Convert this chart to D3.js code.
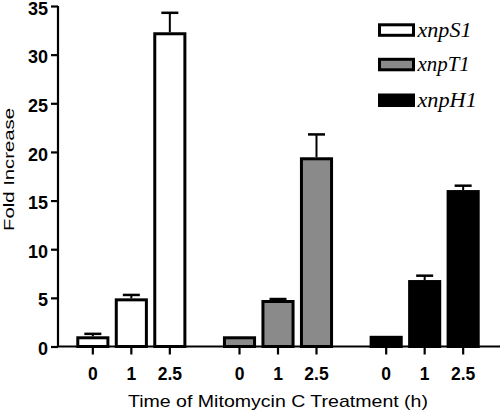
<!DOCTYPE html>
<html>
<head>
<meta charset="utf-8">
<script src="https://cdn.jsdelivr.net/npm/d3@7"></script>
<style>
  html, body { margin: 0; padding: 0; background: #fff; }
  svg { display: block; }
</style>
</head>
<body>
<svg id="chart" width="500" height="414"></svg>
<script>
// ---- data ----
const genes = ["xnpS1", "xnpT1", "xnpH1"];
const times = ["0", "1", "2.5"];
const meanS1 = [1.05, 4.95, 32.3];
const errS1  = [0.25, 0.35, 2.0];
const meanT1 = [1.05, 4.78, 19.45];
const errT1  = [0.0, 0.1, 2.35];
const meanH1 = [1.1, 6.83, 16.08];
const errH1  = [0.0, 0.45, 0.45];
const fills = ["#ffffff", "#8a8a8a", "#000000"];
const yTicks = [0, 5, 10, 15, 20, 25, 30, 35];
const yTitle = "Fold Increase";
const xTitle = "Time of Mitomycin C Treatment (h)";

const means = [meanS1, meanT1, meanH1];
const errs = [errS1, errT1, errH1];
const rows = [];
genes.forEach((g, gi) => times.forEach((t, ti) => rows.push({
  gene: g, time: t, gi, v: means[gi][ti], e: errs[gi][ti]
})));

const svg = d3.select("#chart");
const SANS = "'Liberation Sans', Arial, sans-serif";
const SERIF = "'Liberation Serif', 'Times New Roman', serif";

const x0 = d3.scaleBand().domain(genes).range([58, 498]).padding(0);
const x1 = d3.scaleBand().domain(times).range([0, x0.bandwidth()])
  .paddingInner(0.14).paddingOuter(0.475);
const y = d3.scaleLinear().domain([0, 35]).range([346.5, 6]);

const SW = 3; // bar stroke

// bars
const bars = svg.append("g");
rows.forEach(d => {
  const bx = x0(d.gene) + x1(d.time);
  const bw = x1.bandwidth();
  const cx = bx + bw / 2;
  if (d.e > 0) {
    bars.append("line")
      .attr("x1", cx).attr("x2", cx)
      .attr("y1", y(d.v)).attr("y2", y(d.v + d.e))
      .attr("stroke", "#000").attr("stroke-width", 2);
    bars.append("line")
      .attr("x1", cx - 8.5).attr("x2", cx + 8.5)
      .attr("y1", y(d.v + d.e)).attr("y2", y(d.v + d.e))
      .attr("stroke", "#000").attr("stroke-width", 2.5);
  }
  bars.append("rect")
    .attr("x", bx + SW / 2)
    .attr("y", y(d.v) + SW / 2)
    .attr("width", bw - SW)
    .attr("height", y(0) - y(d.v) - SW / 2)
    .attr("fill", fills[d.gi])
    .attr("stroke", "#000")
    .attr("stroke-width", SW);
});

// y axis
const yAxis = svg.append("g")
  .attr("transform", "translate(58,0)")
  .call(d3.axisLeft(y).tickValues(yTicks).tickSize(7).tickPadding(3).tickFormat(d3.format("d")));
yAxis.select(".domain").attr("stroke-width", 2.2).attr("d", `M0,${y(35)}V${y(0)}`);
yAxis.selectAll(".tick line").attr("stroke-width", 2.2);
yAxis.selectAll(".tick text")
  .attr("font-family", SANS).attr("font-weight", "bold").attr("font-size", 18)
  .attr("dy", "0.45em").attr("fill", "#000");

// x axis (tick for every bar)
const xPos = d3.scaleOrdinal()
  .domain(rows.map(d => d.gene + "|" + d.time))
  .range(rows.map(d => x0(d.gene) + x1(d.time) + x1.bandwidth() / 2));
const xg = svg.append("g");
xg.append("line")
  .attr("x1", 57).attr("x2", 500)
  .attr("y1", y(0)).attr("y2", y(0))
  .attr("stroke", "#000").attr("stroke-width", 2.2);
rows.forEach(d => {
  const cx = xPos(d.gene + "|" + d.time);
  xg.append("line")
    .attr("x1", cx).attr("x2", cx)
    .attr("y1", y(0)).attr("y2", y(0) + 8)
    .attr("stroke", "#000").attr("stroke-width", 2.2);
  xg.append("text")
    .attr("x", cx).attr("y", 379.5)
    .attr("text-anchor", "middle")
    .attr("font-family", SANS).attr("font-weight", "bold").attr("font-size", 17.5)
    .text(d.time);
});

// axis titles
svg.append("text")
  .attr("x", 278).attr("y", 406.5)
  .attr("text-anchor", "middle")
  .attr("font-family", SANS).attr("font-size", 17)
  .attr("textLength", 300).attr("lengthAdjust", "spacingAndGlyphs")
  .text(xTitle);
svg.append("text")
  .attr("transform", "translate(14,169.5) rotate(-90)")
  .attr("text-anchor", "middle")
  .attr("font-family", SANS).attr("font-size", 15.5)
  .attr("textLength", 123).attr("lengthAdjust", "spacingAndGlyphs")
  .text(yTitle);

// legend
const legY = [24.8, 59.3, 95];
const legW = [54, 52.3, 59.3];
const leg = svg.append("g");
genes.forEach((g, i) => {
  leg.append("rect")
    .attr("x", 379.5).attr("y", legY[i])
    .attr("width", 34).attr("height", 10.5)
    .attr("fill", fills[i]).attr("stroke", "#000").attr("stroke-width", SW);
  leg.append("text")
    .attr("x", 417.5).attr("y", legY[i] + 11.8)
    .attr("font-family", SERIF).attr("font-style", "italic").attr("font-size", 20)
    .attr("textLength", legW[i]).attr("lengthAdjust", "spacingAndGlyphs")
    .text(g);
});
</script>
</body>
</html>
